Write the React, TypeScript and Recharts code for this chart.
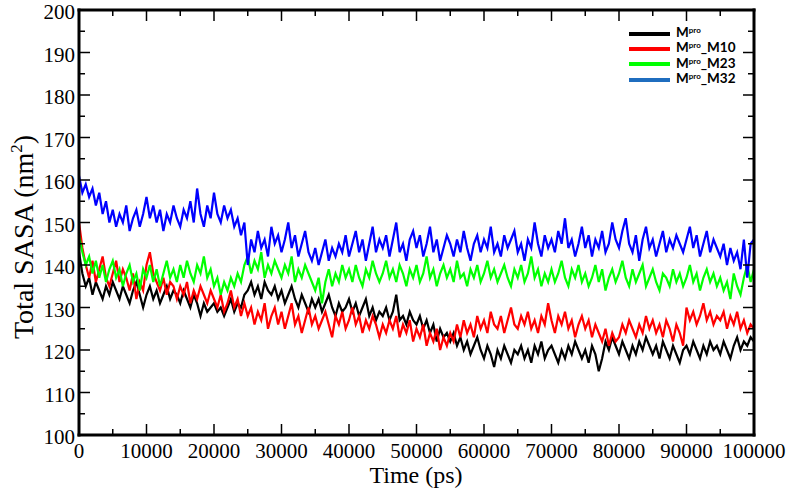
import React from "react";
import { LineChart, Line, XAxis, YAxis } from "recharts";

// Total SASA (nm^2) sampled every 500 ps, 0 .. 100000 ps
const mpro = [
  143, 138, 135, 137, 133, 136, 134, 132, 135, 133,
  136, 134, 132, 135, 133, 131, 134, 136, 133, 130,
  133, 135, 132, 134, 131, 133, 135, 132, 134, 133,
  131, 134, 132, 130, 133, 131, 128, 131, 129, 130,
  131, 129, 130, 128, 130, 132, 129, 131, 130, 133,
  134, 136, 133, 135, 132, 136, 134, 133, 135, 132,
  134, 131, 133, 135, 132, 130, 133, 131, 129, 132,
  130, 132, 129, 131, 133, 130, 128, 131, 129, 130,
  132, 129, 131, 128, 130, 132, 128, 130, 127, 129,
  128, 130, 127, 129, 133, 127, 128, 126, 129, 127,
  126, 128, 125, 127, 124, 126, 122, 125, 123, 124,
  122, 124, 121, 123, 120, 122, 119, 121, 123, 120,
  118, 121, 119, 116, 120, 118, 121, 119, 117, 120,
  119, 121, 118, 120, 117, 121, 119, 122, 118, 120,
  121, 119, 117, 120, 118, 121, 119, 122, 120, 118,
  120, 117, 121, 119, 115, 118, 122, 120, 123, 121,
  119, 122, 120, 118, 121, 119, 122, 120, 123, 121,
  119, 121, 118, 122, 120, 118, 121, 119, 117, 120,
  121, 119, 122, 120, 118, 121, 119, 122, 120, 121,
  119, 122, 120, 118, 121, 123, 120, 122, 121, 123, 122,
];

const m10 = [
  150, 144, 140, 137, 141, 136, 139, 142, 137, 135,
  138, 141, 136, 139, 137, 134, 138, 132, 136, 134,
  140, 143, 138, 136, 134, 137, 133, 136, 135, 132,
  135, 133, 136, 131, 134, 132, 135, 133, 131, 134,
  132, 130, 133, 129, 131, 134, 130, 132, 128, 131,
  128, 130, 126, 129, 127, 131, 125, 128, 130, 126,
  129, 125, 128, 131, 126, 128, 124, 127, 130, 126,
  128, 125, 127, 129, 126, 123, 128, 126, 129, 125,
  127, 130, 126, 128, 124, 127, 125, 128, 126, 123,
  126, 124, 127, 125, 128, 123, 126, 124, 127, 122,
  125, 123, 126, 121, 124, 122, 125, 120, 123, 121,
  124, 122, 126, 123, 127, 124, 126, 123, 128, 125,
  127, 124, 129, 126, 125, 128, 124, 127, 130, 126,
  125, 128, 126, 129, 125, 127, 124, 128, 126, 131,
  127, 124, 128, 126, 129, 125, 127, 123, 126, 128,
  125, 127, 123, 126, 124, 122, 125, 121, 124, 122,
  123, 126, 124, 127, 125, 123, 126, 124, 128, 125,
  127, 124, 126, 123, 127, 125, 122, 126, 124, 121,
  130, 127, 129, 126, 128, 131, 127, 129, 126, 128,
  127, 129, 125, 128, 126, 129, 125, 127, 124, 126, 125,
];

const m23 = [
  147, 143, 140, 142, 138, 141, 137, 140, 136, 139,
  141, 137, 139, 135, 138, 140, 136, 138, 134, 139,
  137, 140, 136, 139, 135, 138, 141, 137, 139, 136,
  140, 137, 141, 138, 136, 140, 138, 142, 137, 139,
  135, 137, 133, 136, 134, 137, 135, 138, 136, 140,
  142, 138, 141, 139, 143, 137, 140, 138, 141, 139,
  137, 140, 138, 142, 136, 139, 137, 140, 138, 136,
  134, 137, 131, 136, 139, 135, 138, 136, 140, 137,
  139, 136, 140, 137, 135, 139, 137, 141, 138, 136,
  138, 141, 137, 139, 136, 140, 138, 135, 139, 137,
  140, 136, 138, 142, 137, 139, 135, 138, 140, 137,
  139, 136, 141, 137, 138, 135, 139, 137, 140, 136,
  138, 141, 137, 139, 136, 138, 140, 137, 135, 139,
  137, 140, 136, 138, 142, 137, 139, 135, 138, 136,
  139, 136, 138, 141, 137, 135, 139, 137, 140, 136,
  138, 135, 137, 140, 136, 139, 134, 137, 139, 136,
  138, 141, 137, 135, 139, 136, 138, 140, 135, 137,
  139, 136, 134, 138, 137, 135, 139, 136, 138, 135,
  137, 140, 136, 138, 134, 137, 139, 136, 138, 135,
  137, 134, 136, 132, 138, 135, 133, 137, 140, 136, 139,
];

const m32 = [
  161, 157, 159, 156, 158, 154, 157, 152, 155, 150,
  153, 149, 152, 150, 154, 148, 151, 153, 149, 152,
  156, 151, 154, 150, 153, 148, 152, 150, 154, 151,
  149, 153, 151, 155, 150, 158, 152, 149, 154, 151,
  157, 152, 150, 154, 151, 153, 149, 151, 147, 150,
  140, 146, 143, 148, 144, 146, 142, 149, 145, 147,
  143, 146, 150, 144, 147, 142, 145, 148, 143, 141,
  144, 140, 143, 146, 141, 144, 142, 145, 143, 147,
  142, 145, 148, 143, 146, 141, 145, 149, 143, 146,
  144, 147, 142, 146, 150, 143, 145, 141, 146, 148,
  144, 147, 142, 145, 149, 143, 146, 141, 144, 147,
  145, 142, 146, 143, 148, 144, 141, 145, 147, 143,
  146, 144, 149, 143, 145, 142, 147, 144, 146, 148,
  143, 145, 141, 146, 144, 150, 145, 142, 147, 144,
  146, 143, 148, 145, 151, 144, 146, 142, 145, 149,
  144, 147, 142, 146, 144, 148, 143, 145, 150, 146,
  144, 148, 151, 145, 143, 147, 141, 146, 149, 144,
  146, 142, 145, 148, 143, 146, 144, 147, 145, 143,
  146, 149, 144, 147, 142, 145, 148, 143, 146, 144,
  142, 145, 140, 144, 141, 143, 139, 146, 137, 145, 146,
];

const xTicks = [
  0, 5000, 10000, 15000, 20000, 25000, 30000, 35000, 40000, 45000, 50000,
  55000, 60000, 65000, 70000, 75000, 80000, 85000, 90000, 95000, 100000,
];
const yTicks = [
  100, 105, 110, 115, 120, 125, 130, 135, 140, 145, 150,
  155, 160, 165, 170, 175, 180, 185, 190, 195, 200,
];

const series = [
  { key: "mpro", color: "#000000", legend: "#000000", suffix: "" },
  { key: "m10", color: "#ff0000", legend: "#ff0000", suffix: "_M10" },
  { key: "m23", color: "#00ff00", legend: "#00ff00", suffix: "_M23" },
  { key: "m32", color: "#0000ff", legend: "#1f6dbf", suffix: "_M32" },
];

const data = mpro.map((v, i) => ({
  t: i * 500,
  mpro: v,
  m10: m10[i],
  m23: m23[i],
  m32: m32[i],
}));

const serif = "'Liberation Serif', 'Times New Roman', serif";
const frame = { stroke: "#000", strokeWidth: 3, strokeLinecap: "square" as const };

const BottomTick = ({ x, y, payload }: any) => {
  const major = payload.value % 10000 === 0;
  return (
    <g>
      <line x1={x} y1={y} x2={x} y2={y - (major ? 11 : 6)} stroke="#000" strokeWidth={1.5} />
      {major && (
        <text x={x} y={y + 23} textAnchor="middle" fontFamily={serif} fontSize={21} fill="#000">
          {payload.value}
        </text>
      )}
    </g>
  );
};

const TopTick = ({ x, y, payload }: any) => {
  const major = payload.value % 10000 === 0;
  return <line x1={x} y1={y} x2={x} y2={y + (major ? 11 : 6)} stroke="#000" strokeWidth={1.5} />;
};

const LeftTick = ({ x, y, payload }: any) => {
  const major = payload.value % 10 === 0;
  return (
    <g>
      <line x1={x} y1={y} x2={x + (major ? 11 : 6)} y2={y} stroke="#000" strokeWidth={1.5} />
      {major && (
        <text x={x - 4} y={y + 9} textAnchor="end" fontFamily={serif} fontSize={21} fill="#000">
          {payload.value}
        </text>
      )}
    </g>
  );
};

const RightTick = ({ x, y, payload }: any) => {
  const major = payload.value % 10 === 0;
  return <line x1={x} y1={y} x2={x - (major ? 11 : 6)} y2={y} stroke="#000" strokeWidth={1.5} />;
};

const XTitle = () => (
  <text x={416} y={483} textAnchor="middle" fontFamily={serif} fontSize={24} fill="#000">
    Time (ps)
  </text>
);

const YTitle = () => (
  <text
    x={33}
    y={237}
    transform="rotate(-90, 33, 237)"
    textAnchor="middle"
    fontFamily={serif}
    fontSize={28}
    fill="#000"
  >
    Total SASA (nm
    <tspan dy={-11} fontSize={17}>2</tspan>
    <tspan dy={11}>)</tspan>
  </text>
);

const LegendBox = () => (
  <div
    style={{
      position: "absolute",
      left: 629,
      top: 26,
      fontFamily: "Lato, 'Liberation Sans', sans-serif",
      fontWeight: 700,
    }}
  >
    {series.map((s) => (
      <div key={s.key} style={{ display: "flex", alignItems: "center", height: 15.3 }}>
        <div style={{ width: 41, height: 4, background: s.legend, marginRight: 6 }} />
        <span style={{ fontSize: 13.5, lineHeight: "15px", color: "#000" }}>
          M
          <span style={{ fontSize: 8, position: "relative", top: -4 }}>pro</span>
          {s.suffix}
        </span>
      </div>
    ))}
  </div>
);

export default function App() {
  return (
    <div style={{ position: "absolute", left: 0, top: 0, width: 787, height: 489, background: "#fff" }}>
      <LineChart
        width={787}
        height={489}
        data={data}
        margin={{ top: 9, right: 32, bottom: 53, left: 78 }}
      >
        <XAxis
          xAxisId="b"
          dataKey="t"
          type="number"
          domain={[0, 100000]}
          ticks={xTicks}
          interval={0}
          height={1}
          tickSize={0}
          tickMargin={0}
          tickLine={false}
          axisLine={frame}
          tick={BottomTick}
          label={<XTitle />}
          allowDataOverflow
        />
        <XAxis
          xAxisId="t"
          orientation="top"
          dataKey="t"
          type="number"
          domain={[0, 100000]}
          ticks={xTicks}
          interval={0}
          height={1}
          tickSize={0}
          tickMargin={0}
          tickLine={false}
          axisLine={frame}
          tick={TopTick}
          allowDataOverflow
        />
        <YAxis
          yAxisId="l"
          type="number"
          domain={[100, 200]}
          ticks={yTicks}
          interval={0}
          width={1}
          tickSize={0}
          tickMargin={0}
          tickLine={false}
          axisLine={frame}
          tick={LeftTick}
          label={<YTitle />}
          allowDataOverflow
        />
        <YAxis
          yAxisId="r"
          orientation="right"
          type="number"
          domain={[100, 200]}
          ticks={yTicks}
          interval={0}
          width={1}
          tickSize={0}
          tickMargin={0}
          tickLine={false}
          axisLine={frame}
          tick={RightTick}
          allowDataOverflow
        />
        {series.map((s) => (
          <Line
            key={s.key}
            xAxisId="b"
            yAxisId="l"
            type="linear"
            dataKey={s.key}
            stroke={s.color}
            strokeWidth={2.2}
            dot={false}
            activeDot={false}
            isAnimationActive={false}
          />
        ))}
      </LineChart>
      <LegendBox />
    </div>
  );
}
